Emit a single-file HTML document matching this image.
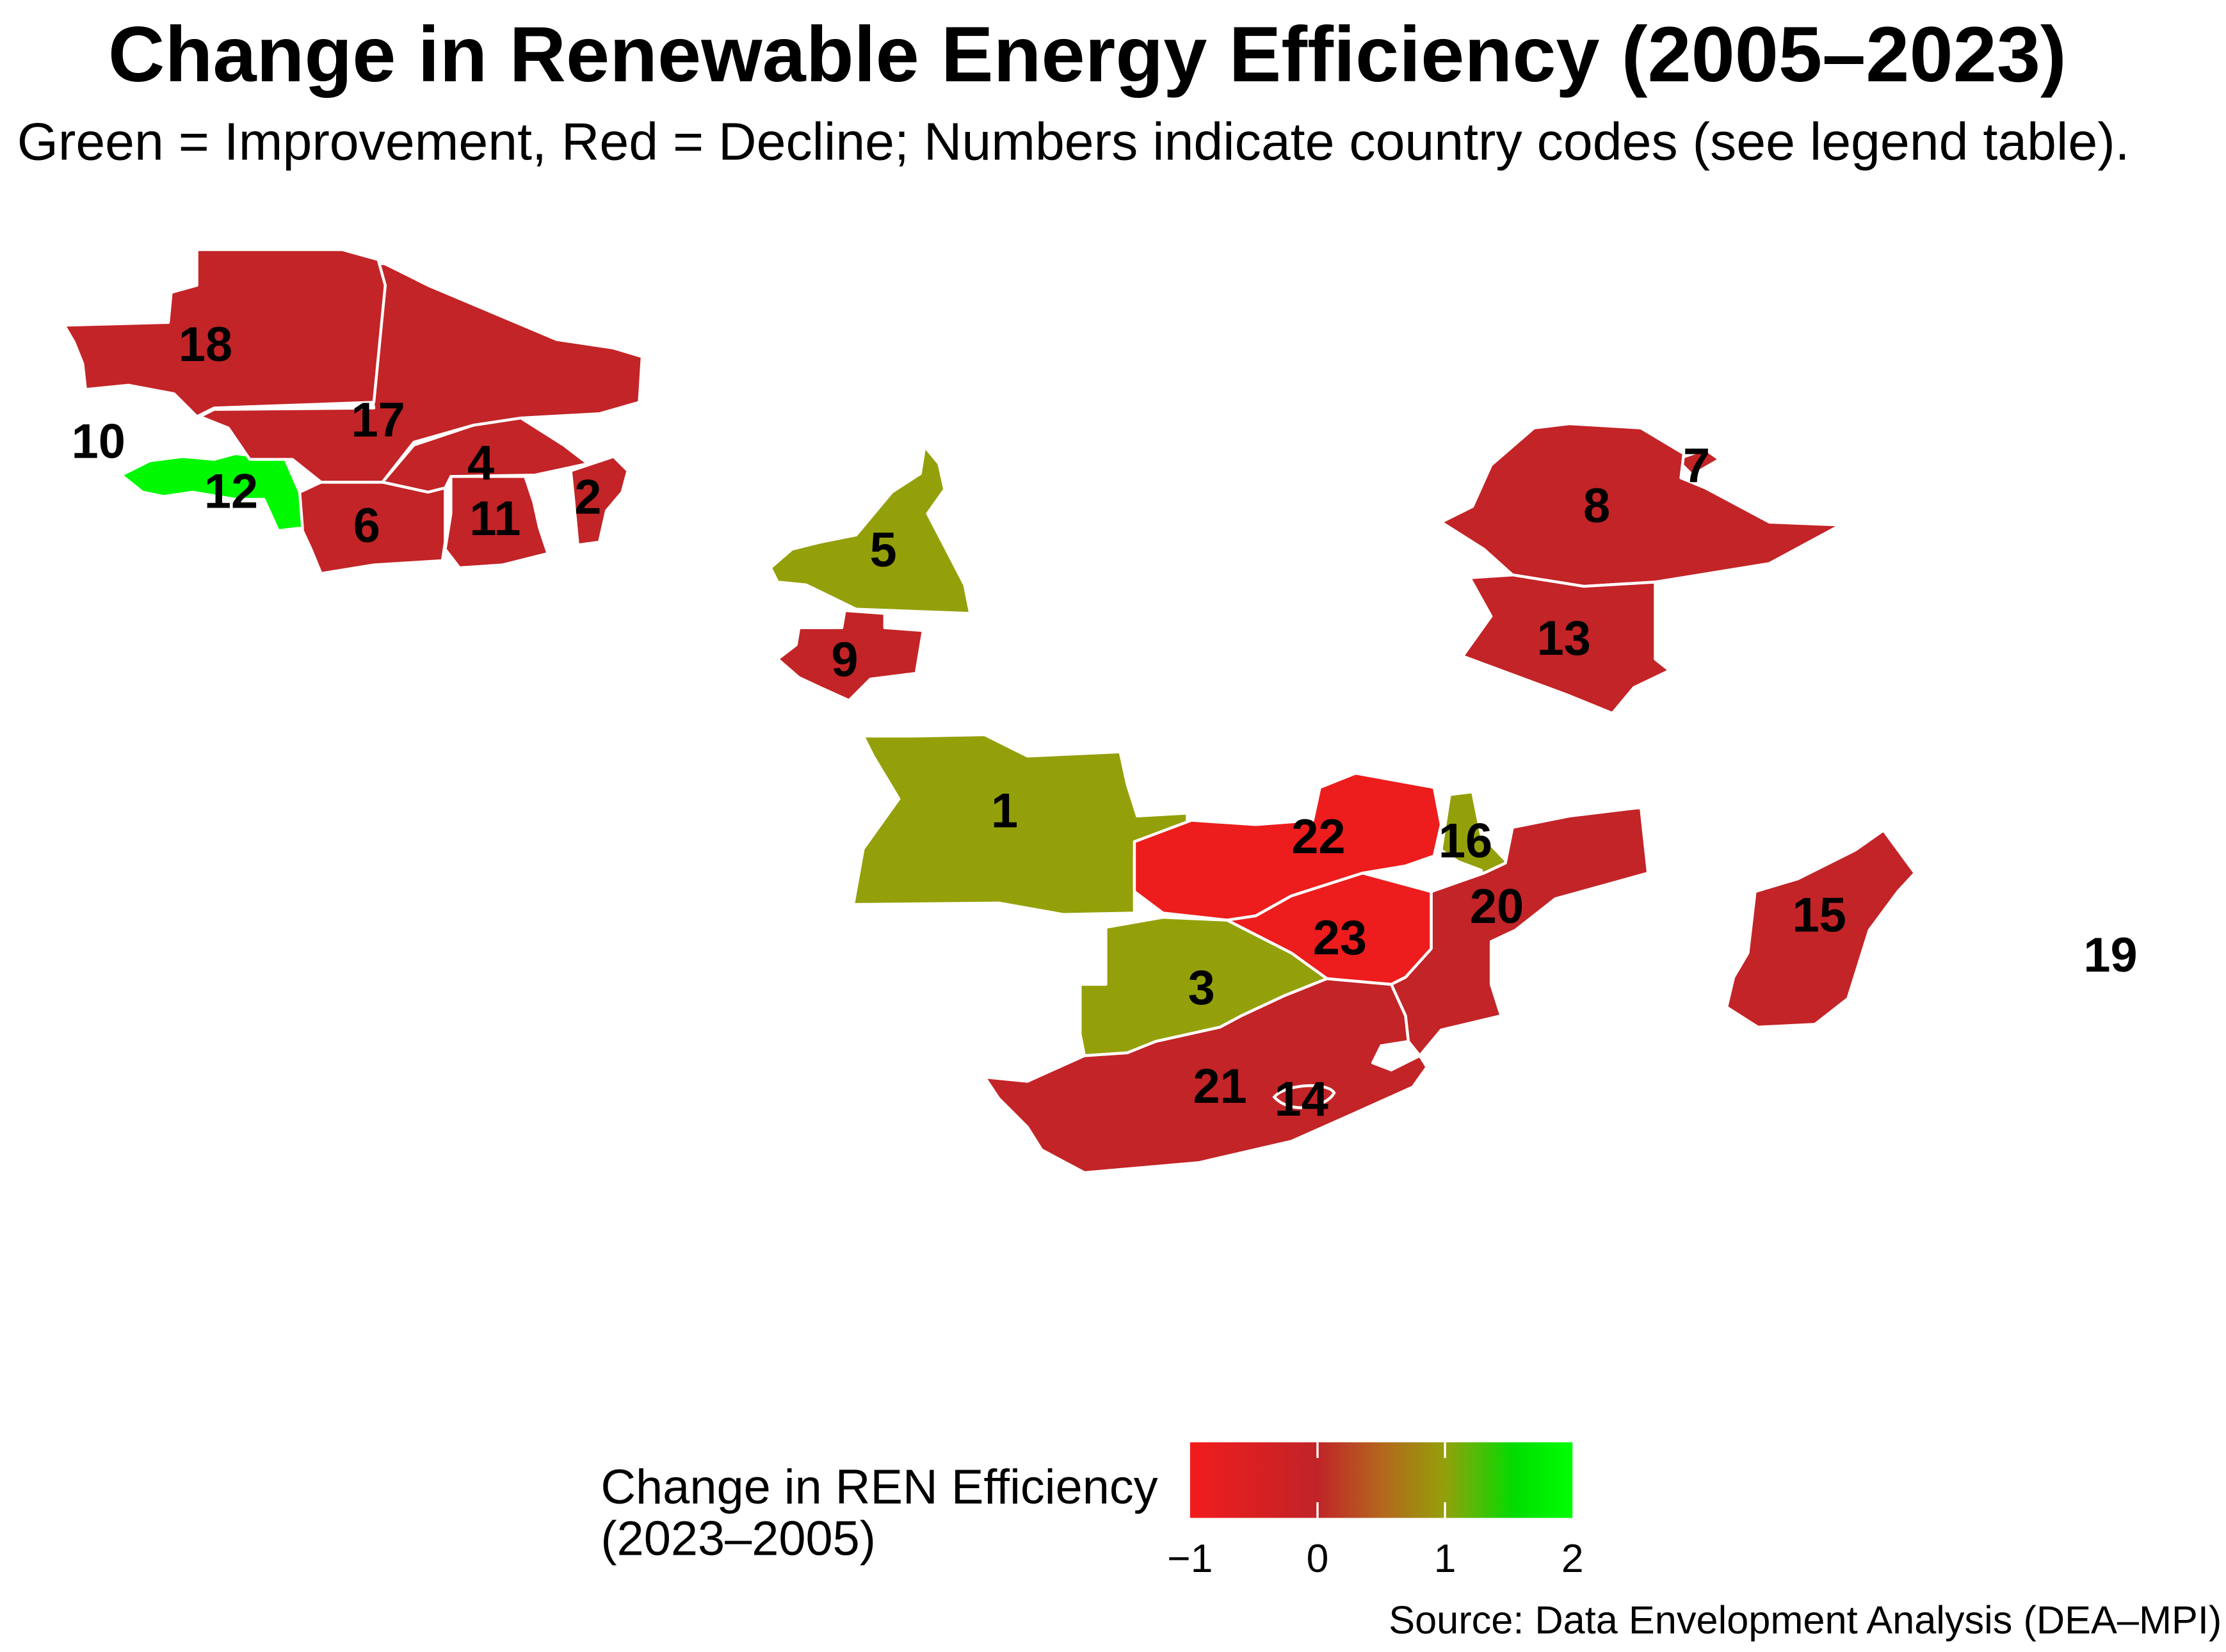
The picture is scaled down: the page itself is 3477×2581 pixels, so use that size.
<!DOCTYPE html>
<html><head><meta charset="utf-8"><style>
html,body{margin:0;padding:0;background:#fff;}
svg{display:block;}
text{font-family:"Liberation Sans",Arial,sans-serif;}
</style></head><body>
<svg id="chart" width="3477" height="2581" viewBox="0 0 1560 1158" xmlns="http://www.w3.org/2000/svg">
<defs>
<linearGradient id="grad" x1="0" x2="1" y1="0" y2="0">
<stop offset="0" stop-color="#f21c1c"/>
<stop offset="0.333" stop-color="#c02428"/>
<stop offset="0.5" stop-color="#b4661e"/>
<stop offset="0.667" stop-color="#94a00a"/>
<stop offset="0.85" stop-color="#00dd00"/>
<stop offset="1" stop-color="#00ff00"/>
</linearGradient>
</defs>
<text x="762" y="57" text-anchor="middle" font-size="55" font-weight="bold">Change in Renewable Energy Efficiency (2005–2023)</text>
<text x="12" y="112" font-size="37">Green = Improvement, Red = Decline; Numbers indicate country codes (see legend table).</text>
<g id="map"></g>
<g id="labels"></g>
<g id="legend">
<text x="421" y="1054" font-size="34">Change in REN Efficiency</text>
<text x="421" y="1090" font-size="34">(2023–2005)</text>
<rect x="834" y="1011" width="268" height="53" fill="url(#grad)"/>
</g>
<text x="1557" y="1145" text-anchor="end" font-size="27.5">Source: Data Envelopment Analysis (DEA–MPI)</text>
</svg>
<script>
// Data
const codes = [1,2,3,4,5,6,7,8,9,11,12,13,14,15,16,17,18,20,21,22,23];
const changes = [1.0,-0.05,1.0,-0.05,1.0,-0.05,-0.05,-0.05,-0.05,-0.05,1.9,-0.05,-0.05,-0.05,1.0,-0.05,-0.05,-0.05,-0.05,-0.9,-0.9];
const legendTicks = [-1,0,1,2];

// Geometry (shapes, not data)
const shapes = {
 18:"M45,228 L118,226 L120,205 L138,200 L138,175 L240,175 L265,182 L270,200 L262,282 L150,286 L138,292 L122,276 L90,270 L60,273 L58,255 L52,240 Z",
 17:"M245,183 L270,185 L300,200 L390,238 L430,244 L450,250 L448,282 L420,290 L365,293 L332,298 L290,310 L268,338 L225,338 L205,322 L175,322 L160,300 L140,292 L150,287 L262,286 Z",
 12:"M85,333 L105,323 L128,320 L150,322 L165,318 L200,322 L210,345 L212,370 L195,372 L185,350 L165,350 L135,345 L115,348 L100,345 Z",
 6:"M210,345 L225,338 L268,338 L300,345 L312,342 L312,380 L310,393 L262,396 L225,402 L218,385 L212,372 Z",
 11:"M316,334 L368,334 L374,352 L378,370 L384,388 L352,396 L322,398 L312,385 L316,360 Z",
 4:"M268,338 L290,312 L332,298 L365,293 L395,312 L412,325 L375,333 L316,334 L312,342 L300,345 Z",
 2:"M400,330 L430,320 L440,330 L436,345 L425,358 L420,380 L405,382 L402,350 Z",
 5:"M540,398 L555,385 L575,380 L600,375 L625,345 L645,332 L648,313 L658,325 L662,343 L650,360 L662,383 L676,410 L680,430 L600,427 L565,410 L545,408 Z",
 9:"M545,462 L558,452 L560,440 L590,440 L592,428 L620,430 L620,440 L647,442 L642,472 L610,476 L595,491 L575,482 L560,475 Z",
 1:"M605,516 L640,516 L690,515 L720,530 L785,527 L790,550 L797,572 L832,570 L832,600 L795,600 L795,640 L745,641 L700,633 L598,634 L605,595 L630,560 L612,530 Z",
 22:"M795,590 L835,575 L880,578 L920,575 L925,552 L950,542 L1005,552 L1010,578 L1005,600 L985,607 L955,612 L905,628 L880,642 L860,645 L815,640 L795,625 Z",
 23:"M860,645 L880,642 L905,628 L955,612 L1003,625 L1003,665 L985,685 L975,690 L930,686 L905,668 Z",
 3:"M775,650 L815,643 L860,645 L905,668 L930,686 L900,698 L870,712 L855,720 L810,730 L790,738 L760,740 L757,725 L757,690 L775,690 Z",
 21:"M690,755 L720,758 L760,740 L790,738 L810,730 L855,720 L870,712 L900,698 L930,686 L975,690 L985,712 L987,730 L968,733 L962,745 L975,750 L995,740 L1000,748 L990,762 L950,780 L905,800 L840,815 L760,822 L730,806 L720,790 L700,770 Z",
 20:"M1003,625 L1040,612 L1055,605 L1060,580 L1100,572 L1150,566 L1155,612 L1090,630 L1062,652 L1045,660 L1045,690 L1052,712 L1010,722 L995,740 L987,730 L985,712 L975,690 L985,685 L1003,665 Z",
 16:"M1016,557 L1032,555 L1038,585 L1055,603 L1060,625 L1045,628 L1038,610 L1022,604 L1010,596 Z",
 15:"M1230,625 L1260,616 L1300,596 L1320,582 L1342,612 L1330,625 L1310,652 L1295,700 L1272,718 L1232,720 L1210,706 L1215,685 L1225,668 Z",
 8:"M1010,366 L1032,355 L1045,326 L1075,300 L1100,297 L1150,300 L1180,318 L1178,335 L1195,342 L1240,366 L1290,368 L1240,395 L1160,408 L1110,411 L1060,403 L1040,385 Z",
 7:"M1175,322 L1195,315 L1205,322 L1186,333 Z",
 13:"M1030,405 L1060,403 L1110,411 L1160,408 L1160,462 L1170,470 L1145,482 L1130,500 L1098,487 L1025,460 L1045,432 Z"
};
const lesotho = "M893,769 C900,760 930,758 935,766 C930,776 905,782 893,769 Z";
const labelPos = {1:[704,568],2:[412,348],3:[842,692],4:[337,324],5:[619,385],6:[257,368],7:[1189,326],8:[1119,354],9:[592,462],10:[69,309],11:[347,363],12:[162,344],13:[1096,447],14:[912,770],15:[1275,641],16:[1027,589],17:[265,294],18:[144,241],19:[1479,669],20:[1049,635],21:[855,761],22:[924,586],23:[939,657]};

function lerp(a,b,t){return Math.round(a+(b-a)*t);}
const stops=[[-1,[242,28,28]],[0,[192,36,40]],[1,[148,160,10]],[1.5,[0,221,0]],[2,[0,255,0]]];
function colorScale(v){
 v=Math.max(-1,Math.min(2,v));
 for(let i=0;i<stops.length-1;i++){
  const [a,ca]=stops[i],[b,cb]=stops[i+1];
  if(v<=b){const t=(v-a)/(b-a);return `rgb(${lerp(ca[0],cb[0],t)},${lerp(ca[1],cb[1],t)},${lerp(ca[2],cb[2],t)})`;}
 }
 return "rgb(0,255,0)";
}
function legendX(v){return 834+(v+1)/3*268;}

const NS="http://www.w3.org/2000/svg";
const map=document.getElementById('map');
codes.forEach((c,i)=>{
 const p=document.createElementNS(NS,'path');
 p.setAttribute('d',shapes[c]);
 p.setAttribute('fill',colorScale(changes[i]));
 p.setAttribute('stroke','#fff');
 p.setAttribute('stroke-width','2');
 p.setAttribute('stroke-linejoin','round');
 
 
 map.appendChild(p);
});
const ls=document.createElementNS(NS,'path');
ls.setAttribute('d',lesotho);
ls.setAttribute('fill',colorScale(changes[codes.indexOf(14)]));
ls.setAttribute('stroke','#fff');
ls.setAttribute('stroke-width','2');


map.appendChild(ls);

const lg=document.getElementById('labels');
Object.keys(labelPos).forEach(k=>{
 const t=document.createElementNS(NS,'text');
 t.setAttribute('x',labelPos[k][0]);
 t.setAttribute('y',labelPos[k][1]+12);
 t.setAttribute('text-anchor','middle');
 t.setAttribute('font-size','34');
 t.setAttribute('font-weight','bold');
 t.textContent=k;
 
 
 lg.appendChild(t);
});

const leg=document.getElementById('legend');
legendTicks.forEach(v=>{
 const x=legendX(v);
 if(v>-1&&v<2){
  [[1011,1022],[1053,1064]].forEach(([a,b])=>{
   const l=document.createElementNS(NS,'line');
   l.setAttribute('x1',x);l.setAttribute('x2',x);l.setAttribute('y1',a);l.setAttribute('y2',b);
   l.setAttribute('stroke','#fff');l.setAttribute('stroke-width','1.5');
   
   
   leg.appendChild(l);
  });
 }
 const t=document.createElementNS(NS,'text');
 t.setAttribute('x',x);t.setAttribute('y',1102);
 t.setAttribute('text-anchor','middle');t.setAttribute('font-size','28');
 t.textContent=v<0?'\u2212'+Math.abs(v):String(v);
 
 
 leg.appendChild(t);
});
</script>
</body></html>
